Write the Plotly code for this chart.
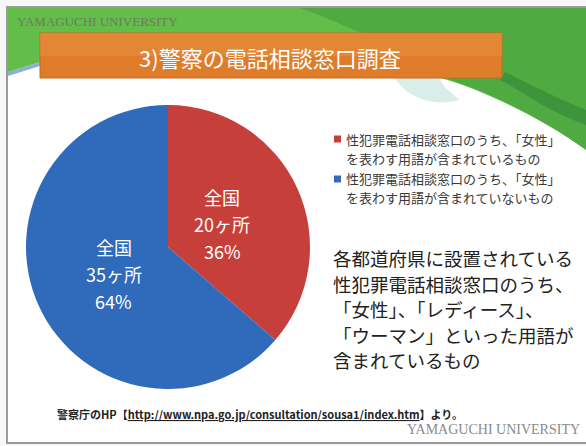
import math
import plotly.graph_objects as go

W, H = 586, 446

# Data
categories = [
    "性犯罪電話相談窓口のうち、「女性」<br>を表わす用語が含まれているもの",
    "性犯罪電話相談窓口のうち、「女性」<br>を表わす用語が含まれていないもの",
]
counts = [20, 35]
slice_colors = ["#C73F3B", "#2F6BBA"]
region_label = "全国"
unit_label = "ヶ所"

title_text = "3)警察の電話相談窓口調査"
note_lines = [
    "各都道府県に設置されている",
    "性犯罪電話相談窓口のうち、",
    "「女性」、「レディース」、",
    "「ウーマン」といった用語が",
    "含まれているもの",
]
source_text = "警察庁のHP【<u>http://www.npa.go.jp/consultation/sousa1/index.htm</u>】より。"
brand = "YAMAGUCHI UNIVERSITY"

JP = "Noto Sans CJK JP"


def px(x):
    return x / W


def py(y):
    return 1 - y / H


def text_lines(lines, x, y_first, step, size, color, anchor="left"):
    """One annotation per line so the line pitch can be set exactly."""
    out = []
    for i, line in enumerate(lines):
        out.append(dict(text=line, xref="paper", yref="paper", x=px(x), y=py(y_first + i * step),
                        xanchor=anchor, yanchor="middle", showarrow=False,
                        font=dict(family=JP, size=size, color=color)))
    return out


fig = go.Figure()

# Pie: centre (168, 247), radius 142 px, starting at 12 o'clock, clockwise
cx, cy, r = 168, 247, 142
fig.add_trace(go.Pie(
    labels=categories,
    values=counts,
    sort=False,
    direction="clockwise",
    rotation=0,
    marker=dict(colors=slice_colors, line=dict(width=0)),
    textinfo="none",
    domain=dict(x=[px(cx - r), px(cx + r)], y=[py(cy + r), py(cy - r)]),
    showlegend=False,
    hoverinfo="label+value+percent",
))

annotations = []

# slice labels placed along each slice's mid-angle
total = sum(counts)
start = 0.0
label_pitch = 27
for v in counts:
    frac = v / total
    mid = (start + frac / 2) * 2 * math.pi
    start += frac
    lx = cx + 0.42 * r * math.sin(mid)
    ly = cy - 0.42 * r * math.cos(mid)
    annotations += text_lines([region_label, f"{v}{unit_label}", f"{round(frac * 100)}%"],
                              lx, ly - label_pitch + 2, label_pitch, 18, "white", anchor="center")

shapes = []

# slide frame
shapes.append(dict(type="rect", xref="paper", yref="paper",
                   x0=px(7), x1=px(590), y0=py(443), y1=py(7),
                   line=dict(color="#9a9a9a", width=2), fillcolor="white", layer="below"))

# green header band with leaves on the right
shapes.append(dict(type="path", xref="paper", yref="paper", layer="below",
                   path="M {} {} L {} {} L {} {} C {} {} {} {} {} {} L {} {} L {} {} L {} {} Z".format(
                       px(8), py(8), px(586), py(8), px(586), py(150),
                       px(545), py(120), px(480), py(88), px(440), py(78),
                       px(40), py(78), px(40), py(62), px(8), py(72)),
                   fillcolor="#62BD49", line=dict(width=0)))
# darker foliage on the right
shapes.append(dict(type="path", xref="paper", yref="paper", layer="below",
                   path="M {} {} L {} {} L {} {} C {} {} {} {} {} {} C {} {} {} {} {} {} Z".format(
                       px(300), py(8), px(586), py(8), px(586), py(150),
                       px(545), py(120), px(490), py(92), px(450), py(80),
                       px(420), py(60), px(360), py(30), px(300), py(8)),
                   fillcolor="#3F9A3C", opacity=0.55, line=dict(width=0)))
shapes.append(dict(type="path", xref="paper", yref="paper", layer="below",
                   path="M {} {} C {} {} {} {} {} {} L {} {} C {} {} {} {} {} {} Z".format(
                       px(500), py(80), px(520), py(90), px(545), py(110), px(586), py(125),
                       px(586), py(110), px(550), py(95), px(525), py(82), px(505), py(72)),
                   fillcolor="#2E7D32", opacity=0.5, line=dict(width=0)))
# pale halo under the title bar
shapes.append(dict(type="path", xref="paper", yref="paper", layer="below",
                   path="M {} {} C {} {} {} {} {} {} C {} {} {} {} {} {} Z".format(
                       px(395), py(78), px(405), py(95), px(430), py(108), px(460), py(100),
                       px(450), py(92), px(440), py(84), px(440), py(78)),
                   fillcolor="#CFE9E4", opacity=0.8, line=dict(width=0)))
# left diagonal accent
shapes.append(dict(type="path", xref="paper", yref="paper", layer="below",
                   path="M {} {} L {} {} L {} {} L {} {} Z".format(
                       px(8), py(72), px(40), py(62), px(40), py(66), px(8), py(76)),
                   fillcolor="#5B8FC8", opacity=0.7, line=dict(width=0)))

# orange title bar
shapes.append(dict(type="rect", xref="paper", yref="paper", layer="below",
                   x0=px(40), x1=px(502), y0=py(78), y1=py(33),
                   fillcolor="#DE7C2A", line=dict(color="#C96A1E", width=1)))
shapes.append(dict(type="rect", xref="paper", yref="paper", layer="below",
                   x0=px(40), x1=px(502), y0=py(56), y1=py(33),
                   fillcolor="#EB9440", opacity=0.45, line=dict(width=0)))

# legend swatches and their two-line captions
for color, label, yy in zip(slice_colors, categories, [139, 179]):
    shapes.append(dict(type="rect", xref="paper", yref="paper",
                       x0=px(334), x1=px(341), y0=py(yy + 3.5), y1=py(yy - 3.5),
                       fillcolor=color, line=dict(width=0)))
    annotations += text_lines(label.split("<br>"), 344, yy, 19, 13, "#3A3A3A")

annotations.append(dict(text=title_text, xref="paper", yref="paper", x=px(270), y=py(57),
                        xanchor="center", yanchor="middle", showarrow=False,
                        font=dict(family=JP, size=22, color="white")))
annotations.append(dict(text=brand, xref="paper", yref="paper", x=px(15), y=py(21),
                        xanchor="left", yanchor="middle", showarrow=False,
                        font=dict(family="Liberation Serif", size=13, color="#6C7C5E")))
annotations.append(dict(text=brand, xref="paper", yref="paper", x=px(582), y=py(429),
                        xanchor="right", yanchor="middle", showarrow=False,
                        font=dict(family="Liberation Serif", size=14, color="#8A8A8A")))

annotations += text_lines(note_lines, 331, 258, 25.6, 18.5, "#222222")

annotations.append(dict(text="<b>" + source_text + "</b>", xref="paper", yref="paper",
                        x=px(55), y=py(414), xanchor="left", yanchor="middle", showarrow=False,
                        font=dict(family=JP, size=11, color="#222222")))

fig.update_layout(
    width=W, height=H,
    margin=dict(l=0, r=0, t=0, b=0),
    paper_bgcolor="#F7F7F7",
    plot_bgcolor="white",
    shapes=shapes,
    annotations=annotations,
)

fig.write_html("out.html")
